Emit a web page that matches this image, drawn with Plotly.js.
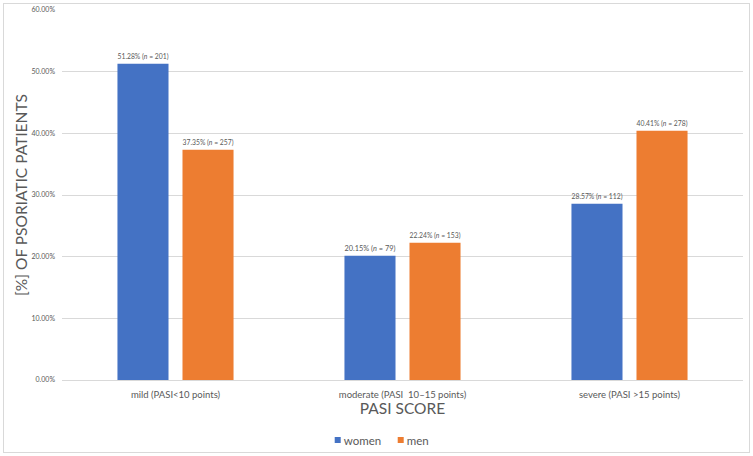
<!DOCTYPE html>
<html>
<head>
<meta charset="utf-8">
<script src="https://cdn.plot.ly/plotly-3.0.1.min.js"></script>
<style>
  body { margin: 0; padding: 0; background: #fff; }
  #chart { width: 753px; height: 456px; }
  #frame { position: absolute; left: 3px; top: 3px; width: 745px; height: 448px;
           border: 1px solid #d9d9d9; pointer-events: none; }
</style>
</head>
<body>
<div id="chart"></div>
<div id="frame"></div>
<script>
var categories = ["mild (PASI<10 points)", "moderate (PASI  10\u201315 points)", "severe (PASI >15 points)"];
var womenPct = [51.28, 20.15, 28.57];
var womenN = [201, 79, 112];
var menPct = [37.35, 22.24, 40.41];
var menN = [257, 153, 278];

var grey = "#595959";

function labels(pct, n) {
  var out = [];
  for (var i = 0; i < pct.length; i++) {
    out.push(pct[i].toFixed(2) + "% (<i>n</i> = " + n[i] + ")");
  }
  return out;
}

var women = {
  x: categories,
  y: womenPct,
  name: "women",
  type: "bar",
  marker: {color: "#4472c4"},
  text: labels(womenPct, womenN),
  textposition: "outside",
  cliponaxis: false,
  textfont: {size: 7.8, color: grey},
  hoverinfo: "none"
};

var men = {
  x: categories,
  y: menPct,
  name: "men",
  type: "bar",
  marker: {color: "#ed7d31"},
  text: labels(menPct, menN),
  textposition: "outside",
  cliponaxis: false,
  textfont: {size: 7.8, color: grey},
  hoverinfo: "none"
};

var layout = {
  width: 753,
  height: 456,
  font: {family: "Lato, 'Open Sans', sans-serif", color: grey},
  margin: {l: 62, r: 10, t: 10, b: 76},
  barmode: "group",
  bargap: 0.427,
  bargroupgap: 0.215,
  plot_bgcolor: "#fff",
  paper_bgcolor: "#fff",
  xaxis: {
    type: "category",
    tickfont: {size: 9.5, color: grey},
    ticklabelstandoff: 7,
    showline: false,
    ticks: "",
    title: {text: "PASI SCORE", font: {size: 15.5, color: grey}, standoff: 4}
  },
  yaxis: {
    range: [0, 60],
    dtick: 10,
    tickformat: ".2f",
    ticksuffix: "%",
    tickfont: {size: 7, color: grey},
    ticklabelstandoff: 6,
    gridcolor: "#d9d9d9",
    zerolinecolor: "#d9d9d9",
    ticks: "",
    title: {text: "[%] OF PSORIATIC PATIENTS", font: {size: 15.5, color: grey}, standoff: 0}
  },
  legend: {
    orientation: "h",
    xref: "container",
    yref: "container",
    x: 0.487,
    xanchor: "center",
    y: 1 - 440 / 456,
    yanchor: "middle",
    itemwidth: 30,
    entrywidth: 18,
    font: {size: 11.5, color: grey}
  },
  showlegend: true
};

Plotly.newPlot("chart", [women, men], layout, {displayModeBar: false, staticPlot: true}).then(function () {
  // smaller legend swatches placed close to the text
  var paths = document.querySelectorAll(".legendpoints path");
  for (var i = 0; i < paths.length; i++) {
    paths[i].setAttribute("d", "M11,3H17V-3H11Z");
  }
});
</script>
</body>
</html>
